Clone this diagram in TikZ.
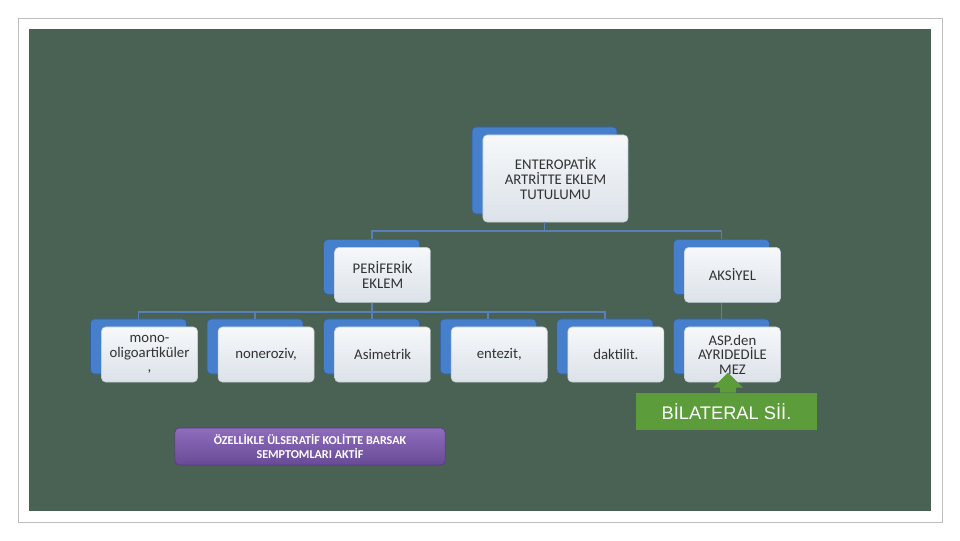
\documentclass[tikz,border=0pt]{standalone}
\usepackage{fontspec}
\setmainfont{Carlito}
\newfontfamily\arialfont{Liberation Sans}
\usetikzlibrary{positioning,shadows}

\definecolor{slide}{RGB}{74,98,84}
\definecolor{frameline}{RGB}{190,190,190}
\definecolor{backblue}{RGB}{70,128,204}
\definecolor{backedge}{RGB}{52,96,160}
\definecolor{boxtop}{RGB}{246,248,250}
\definecolor{boxbot}{RGB}{220,226,233}
\definecolor{boxedge}{RGB}{196,204,212}
\definecolor{linkblue}{RGB}{88,128,182}
\definecolor{txt}{RGB}{50,50,50}
\definecolor{bilgreen}{RGB}{92,156,58}
\definecolor{purptop}{RGB}{142,110,188}
\definecolor{purpbot}{RGB}{104,74,150}
\definecolor{purpedge}{RGB}{84,58,124}

\begin{document}
\begin{tikzpicture}[
    x=0.025cm, y=-0.025cm,
    node distance=0.5cm,
    box/.style={rectangle, rounded corners=3pt, draw=boxedge, top color=boxtop, bottom color=boxbot,
        minimum width=2.4cm, minimum height=1.375cm, align=center, text=txt,
        font=\fontsize{10.5}{10.4}\selectfont,
        general shadow={shadow xshift=-0.275cm, shadow yshift=0.2cm, fill=backblue, draw=backedge}},
    link/.style={draw=linkblue, line width=1.3pt},
    note/.style={rectangle, rounded corners=3pt, draw=purpedge, top color=purptop, bottom color=purpbot,
        minimum width=6.75cm, minimum height=0.925cm, align=center, text=white,
        font=\fontsize{8.6}{9.6}\selectfont\bfseries},
    bilat/.style={rectangle, fill=bilgreen, minimum width=4.525cm, minimum height=0.925cm,
        text=white, font=\arialfont\fontsize{13}{15}\selectfont}
]
    \useasboundingbox (0,0) rectangle (960,540);
    \fill[white] (0,0) rectangle (960,540);
    \draw[frameline] (18,18) rectangle (942,522);
    \fill[slide] (29,29) rectangle (931,511);

    % boxes
    \node[box, minimum width=3.625cm, minimum height=2.175cm] (entero) at (555.5,178.5) {ENTEROPATİK\\ARTRİTTE EKLEM\\TUTULUMU};

    \node[box] (mono) at (149.5,354.5) {mono-\\oligoartiküler\\,};
    \node[box, right=of mono] (noner) {noneroziv,};
    \node[box, right=of noner] (asim) {Asimetrik};
    \node[box, right=of asim] (entez) {entezit,};
    \node[box, right=of entez] (dakt) {daktilit.};
    \node[box, right=of dakt] (asp) {ASP.den\\AYRIDEDİLE\\MEZ};

    \node[box, above=0.6cm of asim] (perif) {PERİFERİK\\EKLEM};
    \node[box, above=0.6cm of asp] (aksiyel) {AKSİYEL};

    % connectors
    \draw[link] ([xshift=-0.275cm]entero.south) -- ++(0,9) -| ([xshift=-0.275cm,yshift=0.2cm]perif.north);
    \draw[link] ([xshift=-0.275cm]entero.south) -- ++(0,9) -| ([xshift=-0.275cm,yshift=0.2cm]aksiyel.north);
    \foreach \k in {mono,noner,asim,entez,dakt}
        \draw[link] ([xshift=-0.275cm]perif.south) -- ++(0,9) -| ([xshift=-0.275cm,yshift=0.2cm]\k.north);
    \draw[link] ([xshift=-0.275cm]aksiyel.south) -- ([xshift=-0.275cm,yshift=0.2cm]asp.north);

    % notes
    \node[note] (kolit) at (310,446.5) {ÖZELLİKLE ÜLSERATİF KOLİTTE BARSAK\\SEMPTOMLARI AKTİF};
    \node[bilat] (bil) at (726.5,411.5) {BİLATERAL Sİİ.};
    \fill[bilgreen] ([xshift=0.0375cm]bil.north) ++(-8,0) -- ++(0,-5) -- ++(-7,0) -- ++(15,-15)
        -- ++(15,15) -- ++(-7,0) -- ++(0,5) -- cycle;
\end{tikzpicture}
\end{document}
